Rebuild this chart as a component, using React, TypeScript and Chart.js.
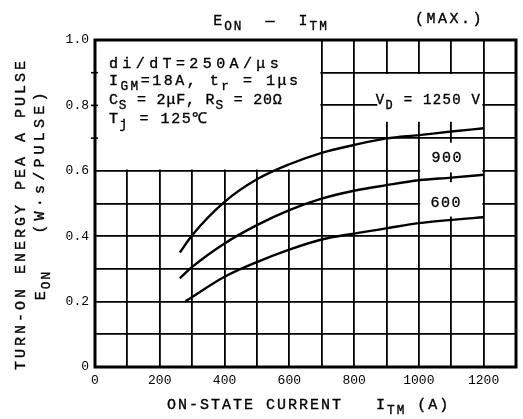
import React, { useEffect, useRef } from "react";
import { Chart, registerables } from "chart.js";

Chart.register(...registerables);

// ---- data ----
const current1250 = [262, 300, 400, 500, 600, 700, 800, 900, 1000, 1100, 1200];
const energy1250 = [0.35, 0.403, 0.505, 0.574, 0.62, 0.655, 0.679, 0.699, 0.709, 0.72, 0.73];
const current900 = [262, 300, 400, 500, 600, 700, 800, 900, 1000, 1100, 1200];
const energy900 = [0.271, 0.306, 0.378, 0.434, 0.48, 0.515, 0.539, 0.556, 0.571, 0.579, 0.588];
const current600 = [280, 300, 400, 500, 600, 700, 800, 900, 1000, 1100, 1200];
const energy600 = [0.201, 0.214, 0.276, 0.321, 0.359, 0.39, 0.408, 0.424, 0.44, 0.45, 0.458];

const xTickLabels = ["0", "200", "400", "600", "800", "1000", "1200"];
const yTickLabels = ["0", "0.2", "0.4", "0.6", "0.8", "1.0"];

const FONT = '"Liberation Mono", "DejaVu Sans Mono", monospace';

type Seg = [string, boolean?];

function richWidth(ctx: CanvasRenderingContext2D, segs: Seg[], size: number, ls: number) {
  let w = 0;
  for (const [t, sub] of segs) {
    const s = sub ? size * 0.85 : size;
    ctx.font = `${s}px ${FONT}`;
    (ctx as any).letterSpacing = `${ls}px`;
    w += ctx.measureText(t).width;
  }
  return w;
}

function drawRich(
  ctx: CanvasRenderingContext2D,
  x: number,
  y: number,
  segs: Seg[],
  size: number,
  ls: number,
  align: "left" | "center" = "left"
) {
  let cx = x;
  if (align === "center") cx = x - richWidth(ctx, segs, size, ls) / 2;
  ctx.textAlign = "left";
  ctx.textBaseline = "middle";
  ctx.fillStyle = "#000";
  ctx.strokeStyle = "#000";
  ctx.lineWidth = 0.35;
  for (const [t, sub] of segs) {
    const s = sub ? size * 0.85 : size;
    ctx.font = `${s}px ${FONT}`;
    (ctx as any).letterSpacing = `${ls}px`;
    const yy = sub ? y + size * 0.38 : y;
    ctx.fillText(t, cx, yy);
    ctx.strokeText(t, cx, yy);
    cx += ctx.measureText(t).width;
  }
  (ctx as any).letterSpacing = "0px";
}

const decorPlugin = {
  id: "decor",
  beforeDatasetsDraw(chart: any) {
    const { ctx, scales } = chart;
    const xs = scales.x;
    const ys = scales.y;
    const px = (v: number) => xs.getPixelForValue(v);
    const py = (v: number) => ys.getPixelForValue(v);
    ctx.save();
    ctx.fillStyle = "#fff";
    const rect = (x0: number, x1: number, y0: number, y1: number) => {
      ctx.fillRect(x0, y1, x1 - x0, y0 - y1);
    };
    // parameter box
    rect(px(0) + 1, px(700) - 1.3, py(0.6) - 1.3, py(1.0) + 1);
    // V_D label box
    rect(px(872), px(1200) - 1.3, py(0.75), py(0.9) + 1.3);
    // 900 label box
    rect(px(1000) + 1.3, px(1200) - 1.3, py(0.595), py(0.686));
    // 600 label box
    rect(px(1000) + 1.3, px(1200) - 1.3, py(0.46), py(0.565));
    ctx.restore();
  },
  afterDatasetsDraw(chart: any) {
    const { ctx, scales, chartArea } = chart;
    const xs = scales.x;
    const ys = scales.y;
    const px = (v: number) => xs.getPixelForValue(v);
    const py = (v: number) => ys.getPixelForValue(v);
    ctx.save();
    // frame
    ctx.strokeStyle = "#000";
    ctx.lineWidth = 3;
    ctx.strokeRect(chartArea.left, chartArea.top, chartArea.right - chartArea.left, chartArea.bottom - chartArea.top);
    // small ticks on left border inside parameter box
    ctx.lineWidth = 1.6;
    for (const v of [0.7, 0.8, 0.9]) {
      ctx.beginPath();
      ctx.moveTo(px(0) - 4, py(v));
      ctx.lineTo(px(0) + 3, py(v));
      ctx.stroke();
    }

    // parameter text
    const lx = px(43);
    drawRich(ctx, lx, py(0.927), [["di/dT=250A/μs"]], 15, 4.4);
    drawRich(ctx, lx, py(0.874), [["I"], ["GM", true], ["=18A, t"], ["r", true], [" = 1μs"]], 15, 2.5);
    drawRich(ctx, lx, py(0.816), [["C"], ["S", true], [" = 2μF, R"], ["S", true], [" = 20Ω"]], 15, 0.8);
    drawRich(ctx, lx, py(0.758), [["T"], ["j", true], [" = 125℃"]], 15, 1.6);

    // curve labels
    drawRich(ctx, px(1030), py(0.816), [["V"], ["D", true], [" = 1250 V"]], 14, 1.3, "center");
    drawRich(ctx, px(1088), py(0.639), [["900"]], 15, 1.5, "center");
    drawRich(ctx, px(1085), py(0.501), [["600"]], 15, 1.5, "center");

    // title
    drawRich(ctx, 271, 21, [["E"], ["ON", true], ["  —  "], ["I"], ["TM", true]], 15, 2, "center");
    drawRich(ctx, 415, 19, [["(MAX.)"]], 15, 2.5);

    // x axis title
    drawRich(ctx, 167, 405, [["ON-STATE CURRENT   "], ["I"], ["TM", true], [" (A)"]], 15, 2);

    // y axis titles (rotated)
    const rot = (cx: number, cy: number, fn: () => void) => {
      ctx.save();
      ctx.translate(cx, cy);
      ctx.rotate(-Math.PI / 2);
      fn();
      ctx.restore();
    };
    rot(21, 214, () => drawRich(ctx, 0, 0, [["TURN-ON ENERGY PEA A PULSE"]], 15, 3, "center"));
    rot(40, 161, () => drawRich(ctx, 0, 0, [["(W·s/PULSE)"]], 15, 4.2, "center"));
    rot(41, 285, () => drawRich(ctx, 0, 0, [["E"], ["ON", true]], 15, 2, "center"));
    ctx.restore();
  },
};

export default function App() {
  const ref = useRef<HTMLCanvasElement | null>(null);
  useEffect(() => {
    if (!ref.current) return;
    const mk = (xs: number[], ys: number[]) => xs.map((x, i) => ({ x, y: ys[i] }));
    const ds = (data: any[], label: string) => ({
      label,
      data,
      showLine: true,
      borderColor: "#000",
      backgroundColor: "#000",
      borderWidth: 2.4,
      pointRadius: 0,
      cubicInterpolationMode: "monotone" as const,
      fill: false,
    });
    const chart = new Chart(ref.current, {
      type: "scatter",
      data: {
        datasets: [
          ds(mk(current1250, energy1250), "1250V"),
          ds(mk(current900, energy900), "900V"),
          ds(mk(current600, energy600), "600V"),
        ],
      },
      options: {
        animation: false,
        responsive: false,
        events: [],
        layout: { padding: { top: 40, right: 7, left: 0, bottom: 0 } },
        plugins: { legend: { display: false }, tooltip: { enabled: false }, title: { display: false } },
        scales: {
          x: {
            type: "linear",
            min: 0,
            max: 1300,
            afterFit: (s: any) => {
              s.height = 52;
            },
            grid: { color: "#000", lineWidth: 1.8, drawTicks: false },
            border: { display: false },
            ticks: {
              stepSize: 100,
              autoSkip: false,
              maxRotation: 0,
              padding: 6,
              color: "#000",
              font: { family: FONT, size: 13 },
              callback: (v: any) => {
                const s = String(Math.round(Number(v)));
                return xTickLabels.includes(s) ? s : "";
              },
            },
          },
          y: {
            type: "linear",
            min: 0,
            max: 1,
            afterFit: (s: any) => {
              s.width = 95;
            },
            grid: { color: "#000", lineWidth: 1.8, drawTicks: false },
            border: { display: false },
            ticks: {
              stepSize: 0.1,
              autoSkip: false,
              padding: 6,
              color: "#000",
              font: { family: FONT, size: 13 },
              callback: (v: any) => {
                const r = Math.round(Number(v) * 10) / 10;
                const s = r === 0 ? "0" : r.toFixed(1);
                return yTickLabels.includes(s) ? s : "";
              },
            },
          },
        },
      },
      plugins: [decorPlugin],
    });
    return () => chart.destroy();
  }, []);
  return (
    <div style={{ position: "absolute", left: 0, top: 0, width: 523, height: 419, background: "#fff" }}>
      <canvas ref={ref} width={523} height={419} />
    </div>
  );
}
